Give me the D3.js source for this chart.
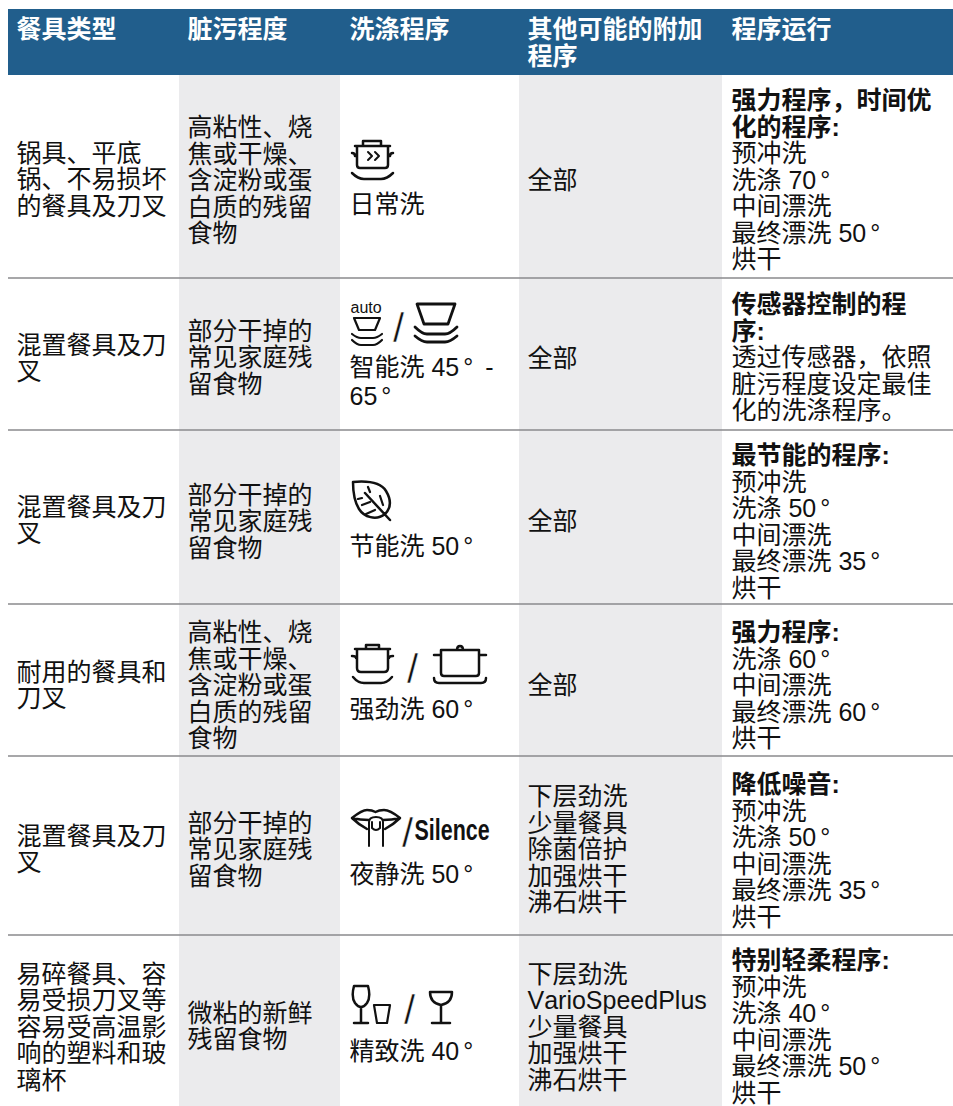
<!DOCTYPE html>
<html lang="zh-CN"><head><meta charset="utf-8">
<script src="https://cdn.jsdelivr.net/npm/d3@7/dist/d3.min.js"></script>
<style>
html,body{margin:0;padding:0;background:#fff;overflow:hidden}
svg{display:block}
text{font-family:"Liberation Sans","Noto Sans CJK SC",sans-serif;font-size:25px;fill:#111;font-kerning:none}
.h{fill:#fff;font-weight:bold}
.b{font-weight:bold}
.sl{font-size:40px;stroke:#fff;stroke-width:.5px}
.ic{fill:none;stroke:#111;stroke-width:2.5;stroke-linecap:round;stroke-linejoin:round}
</style></head><body>
<svg id="c" width="953" height="1106"></svg>
<script>
const headers=[["餐具类型"],["脏污程度"],["洗涤程序"],["其他可能的附加","程序"],["程序运行"]];
const dishes=[
["锅具、平底","锅、不易损坏","的餐具及刀叉"],
["混置餐具及刀","叉"],
["混置餐具及刀","叉"],
["耐用的餐具和","刀叉"],
["混置餐具及刀","叉"],
["易碎餐具、容","易受损刀叉等","容易受高温影","响的塑料和玻","璃杯"]];
const soil=[
["高粘性、烧","焦或干燥、","含淀粉或蛋","白质的残留","食物"],
["部分干掉的","常见家庭残","留食物"],
["部分干掉的","常见家庭残","留食物"],
["高粘性、烧","焦或干燥、","含淀粉或蛋","白质的残留","食物"],
["部分干掉的","常见家庭残","留食物"],
["微粘的新鲜","残留食物"]];
const programs=[["日常洗"],["智能洗 45° -","65°"],["节能洗 50°"],["强劲洗 60°"],["夜静洗 50°"],["精致洗 40°"]];
const extras=[["全部"],["全部"],["全部"],["全部"],
["下层劲洗","少量餐具","除菌倍护","加强烘干","沸石烘干"],
["下层劲洗","VarioSpeedPlus","少量餐具","加强烘干","沸石烘干"]];
const runTitles=[["强力程序\uFF0C时间优","化的程序:"],["传感器控制的程","序:"],["最节能的程序:"],["强力程序:"],["降低噪音:"],["特别轻柔程序:"]];
const runSteps=[
["预冲洗","洗涤 70°","中间漂洗","最终漂洗 50°","烘干"],
["透过传感器\uFF0C依照","脏污程度设定最佳","化的洗涤程序。"],
["预冲洗","洗涤 50°","中间漂洗","最终漂洗 35°","烘干"],
["洗涤 60°","中间漂洗","最终漂洗 60°","烘干"],
["预冲洗","洗涤 50°","中间漂洗","最终漂洗 35°","烘干"],
["预冲洗","洗涤 40°","中间漂洗","最终漂洗 50°","烘干"]];

const colEdges=[8,179,340,519,722,953];
const rowEdges=[75,278,430,604,756,935,1106];
const textX=[16.5,187.5,349.5,527.5,731.5];
const lh=26.5;
const svg=d3.select("#c");
const x=d3.scaleOrdinal(d3.range(5),textX);

svg.append("rect").attr("x",8).attr("y",9).attr("width",945).attr("height",66).attr("fill","#215e8c");
[1,3].forEach(i=>svg.append("rect").attr("x",colEdges[i]).attr("y",75).attr("width",colEdges[i+1]-colEdges[i]).attr("height",1031).attr("fill","#ebebed"));
svg.selectAll("line.sep").data(rowEdges.slice(1,-1)).join("line").attr("class","sep")
 .attr("x1",8).attr("x2",953).attr("y1",d=>d).attr("y2",d=>d).attr("stroke","#8a8a8c").attr("stroke-width",1.6);

function put(px,py,t,cls){
  const e=svg.append("text").attr("class",cls||null).attr("x",px).attr("y",py);
  t.split("°").forEach((s,i)=>{
    if(i>0) e.append("tspan").attr("dx",4).text("°");
    if(s) e.append("tspan").attr("dx",i>0&&s.trim()?5:0).text(s);
  });
  return e;
}
headers.forEach((h,i)=>h.forEach((t,j)=>put(x(i),38+j*27,t,"h")));
function block(lines,col,cy){
  const top=cy-(lines.length*lh)/2;
  lines.forEach((t,j)=>put(x(col),top+j*lh+lh/2+9,t));
}
dishes.forEach((l,r)=>block(l,0,[179,358,520,685,849,1026.5][r]));
soil.forEach((l,r)=>block(l,1,[180,357,521,685,849,1026][r]));
extras.forEach((l,r)=>block(l,3,[180,358,521,685,849,1026.5][r]));
const runTop=[100,304,455,632,784,960];
runTitles.forEach((l,r)=>{
  l.forEach((t,j)=>put(x(4),runTop[r]+9+j*lh,t,"b"));
  runSteps[r].forEach((t,j)=>put(x(4),runTop[r]+9+(l.length+j)*lh,t));
});
const progY=[[213],[376,405],[555],[718],[883],[1060]];
programs.forEach((l,r)=>l.forEach((t,j)=>put(x(2),progY[r][j],t)));

// icons
function g(tx,ty){return svg.append("g").attr("class","ic").attr("transform",`translate(${tx},${ty})`);}
function p(gr,d,w){const e=gr.append("path").attr("d",d);if(w)e.style("stroke-width",w);return e;}
function slash(px,py){svg.append("text").attr("class","sl").attr("x",px).attr("y",py).text("/");}
// everyday pot
let a=g(352,140);
p(a,"M3 6 H38 M5 6 V25 Q5 28 8 28 H33 Q36 28 36 25 V6 M11 6 V1 H29 V6 M0 13 Q3 13 3 16 M41 13 Q38 13 38 16");
p(a,"M16 12 L20 16 L16 20 M23 12 L27 16 L23 20",2);
p(a,"M0 33 Q6 39 12 39 H29 Q35 39 41 33");
// auto
svg.append("text").attr("x",350.5).attr("y",313).style("font-size","16px").text("auto");
a=g(352,318);
p(a,"M2 0 H28 L23 12 H7 Z M0 16 Q5 20 9 20 H21 Q25 20 30 16 M0 22 Q5 27 9 27 H21 Q25 27 30 22",2.2);
slash(393,342);
a=g(415,304);
p(a,"M2 0 H40 L33 20 H9 Z M0 23 Q7 30 12 30 H30 Q35 30 42 23 M0 32 Q7 38 12 38 H30 Q35 38 42 32",2.8);
// leaf
a=g(352,481);
p(a,"M1 1 C12 0 28 0 34 10 C40 20 38 28 33 33 C24 40 12 36 7 28 C2 20 1 10 1 1 Z M13 12 L38 39");
p(a,"M16 6 L18 11 M28 15 L31 24 M6 18 L10 17 M10 24 L18 21 M14 33 L23 29",2.2);
// intensive pots
a=g(352,644);
p(a,"M3 5 H38 M5 5 V24 Q5 28 9 28 H32 Q36 28 36 24 V5 M14 5 V1 H27 V5 M0 12 Q4 12 4 14 M41 12 Q37 12 37 14 M1 33 Q6 39 12 39 H29 Q35 39 40 33");
slash(407,683);
a=g(433,645);
p(a,"M8 5 H46 V28 Q46 31 43 31 H11 Q8 31 8 28 Z M1 10 H8 M46 10 H53 M24 5 Q24 1 27 1 Q30 1 30 5 M1 33 Q1 38 6 38 H48 Q53 38 53 33");
// lips
a=g(352,808);
p(a,"M0 10 Q10 2 15 2 Q20 2 23.5 4 Q27 2 32 2 Q38 2 48 10 M0 10 Q6 16 15 21 M48 10 Q42 16 33 21 M0 10 Q8 12 17 12 M48 10 Q40 12 31 12");
p(a,"M17 38 V14 Q17 9 24 9 Q31 9 31 14 V38 M20 14 V20 Q24 24 28 20 V14",2);
slash(402,847);
svg.append("text").attr("transform","translate(414.5,840) scale(.74,1)").style("font-size","29px").style("font-weight","bold").text("Silence");
// glasses
a=g(352,985);
p(a,"M2 1 H16 Q19 12 15 18 Q12 22 9 22 Q6 22 3 18 Q-1 12 2 1 Z M9 22 V38 M2 38 H16");
p(a,"M22 20 H38 L35 38 H25 Z",2.2);
slash(404,1024);
a=g(429,991);
p(a,"M1 1 H23 Q23 12 12 14 Q1 12 1 1 Z M12 14 V32 M3 32 H21");
</script></body></html>
